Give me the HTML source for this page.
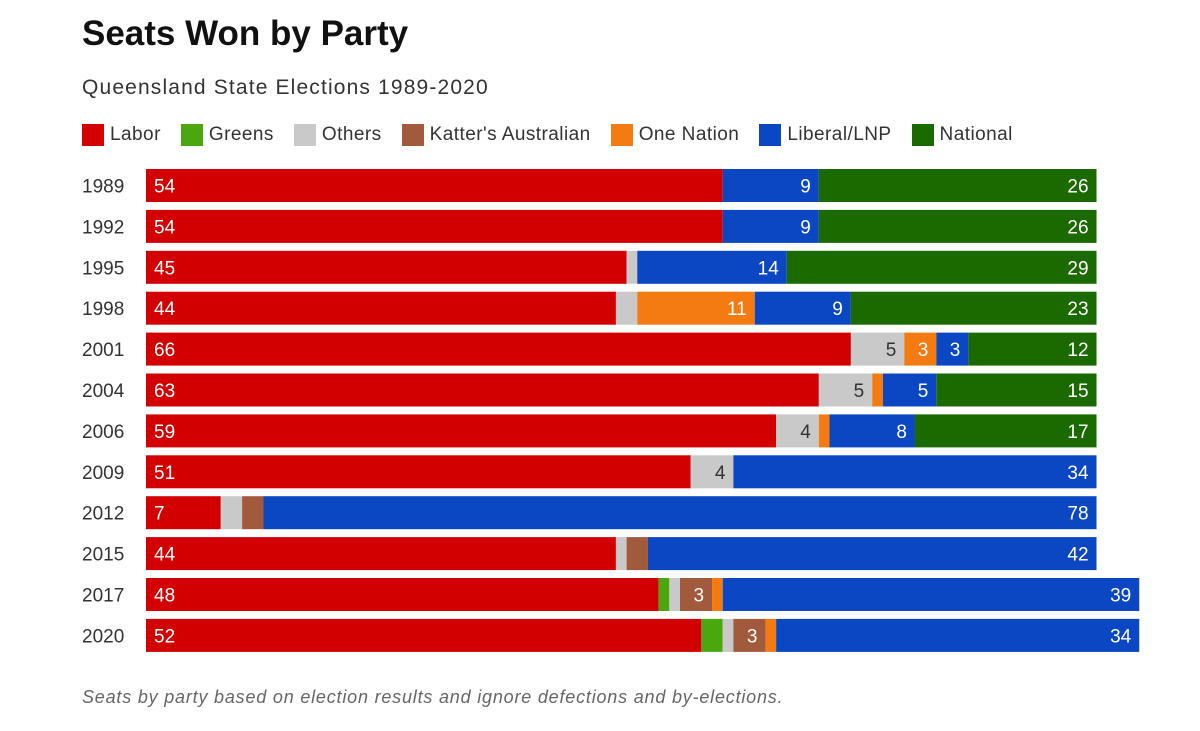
<!DOCTYPE html>
<html><head><meta charset="utf-8"><style>
body{margin:0;background:#fff;font-family:"Liberation Sans",sans-serif;}
#wrap{position:relative;width:1200px;height:731px;overflow:hidden;}
h1{position:absolute;left:82px;top:14px;margin:0;font-size:35px;font-weight:bold;color:#111;}
.sub{position:absolute;left:82px;top:76px;font-size:21px;color:#333;letter-spacing:1.15px;}
.legend{position:absolute;left:82px;top:124px;display:flex;font-size:19px;color:#333;letter-spacing:0.45px;}
.li{display:flex;align-items:center;margin-right:20px;}
.sw{width:22px;height:22px;margin-right:6px;}
.note{position:absolute;left:82px;top:687px;font-size:18px;font-style:italic;color:#666;letter-spacing:0.8px;}
</style></head><body>
<div id="wrap">
<h1>Seats Won by Party</h1>
<div class="sub">Queensland State Elections 1989-2020</div>
<div class="legend" id="legend"></div>
<svg id="svg" width="1200" height="731" style="position:absolute;left:0;top:0"></svg>
<div class="note">Seats by party based on election results and ignore defections and by-elections.</div>
</div>
<script>
const years=["1989","1992","1995","1998","2001","2004","2006","2009","2012","2015","2017","2020"];
const parties=["Labor","Greens","Others","Katter's Australian","One Nation","Liberal/LNP","National"];
const colors=["#d20000","#4aa80e","#c9c9c9","#a15a3c","#f47a12","#0b47c3","#1b6a00"];
const labor=[54,54,45,44,66,63,59,51,7,44,48,52];
const greens=[0,0,0,0,0,0,0,0,0,0,1,2];
const others=[0,0,1,2,5,5,4,4,2,1,1,1];
const katter=[0,0,0,0,0,0,0,0,2,2,3,3];
const oneNation=[0,0,0,11,3,1,1,0,0,0,1,1];
const liberal=[9,9,14,9,3,5,8,34,78,42,39,34];
const national=[26,26,29,23,12,15,17,0,0,0,0,0];
const series=[labor,greens,others,katter,oneNation,liberal,national];
const x0=146,perSeat=10.68,rowY0=169,rowStep=40.9,barH=33;
const xs=v=>x0+v*perSeat;
const ys=i=>rowY0+i*rowStep;
const NS="http://www.w3.org/2000/svg";
const svg=document.getElementById('svg');
const leg=document.getElementById('legend');
parties.forEach((p,k)=>{
  const d=document.createElement('div');d.className='li';
  
  
  d.innerHTML='<div class="sw" style="background:'+colors[k]+'"></div>'+p;
  leg.appendChild(d);
});
years.forEach((yr,i)=>{
  const t=document.createElementNS(NS,'text');
  t.setAttribute('x',82);t.setAttribute('y',ys(i)+barH/2+7);
  t.setAttribute('font-size','19');t.setAttribute('fill','#333');
  
  
  t.textContent=yr;svg.appendChild(t);
  let cum=0;
  series.forEach((s,k)=>{
    const v=s[i];if(!v)return;
    const r=document.createElementNS(NS,'rect');
    r.setAttribute('x',xs(cum));r.setAttribute('y',ys(i));
    r.setAttribute('width',xs(cum+v)-xs(cum));r.setAttribute('height',barH);
    r.setAttribute('fill',colors[k]);
    
    
    svg.appendChild(r);
    if(v>=3){
      const l=document.createElementNS(NS,'text');
      if(k===0){l.setAttribute('x',xs(cum)+8);}
      else{l.setAttribute('x',xs(cum+v)-8);l.setAttribute('text-anchor','end');}
      l.setAttribute('y',ys(i)+barH/2+7);
      l.setAttribute('font-size','19');
      l.setAttribute('fill',k===2?'#333':'#fff');
      
      
      l.textContent=v;svg.appendChild(l);
    }
    cum+=v;
  });
});
</script>
</body></html>
